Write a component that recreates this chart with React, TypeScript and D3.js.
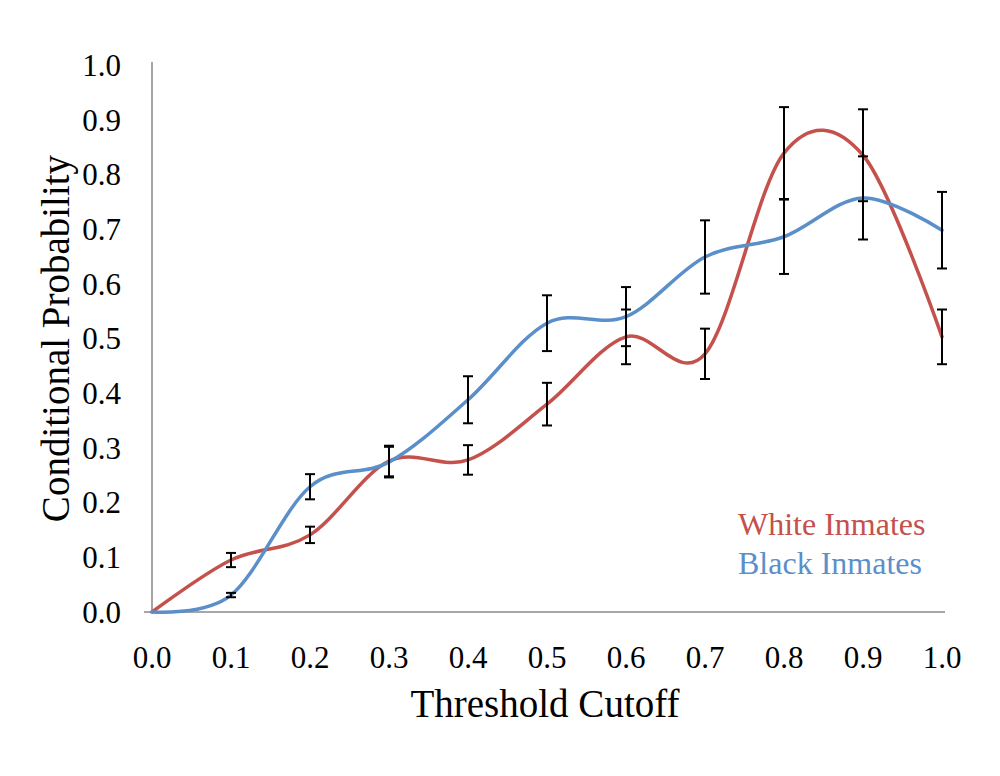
import React, { useEffect, useRef } from 'react';
import * as d3 from 'd3';

// values
const thresholds = [0, 0.1, 0.2, 0.3, 0.4, 0.5, 0.6, 0.7, 0.8, 0.9, 1.0];
const whiteValues = [0, 0.095, 0.141, 0.276, 0.278, 0.38, 0.503, 0.472, 0.839, 0.835, 0.503];
const whiteErrors = [0, 0.013, 0.015, 0.028, 0.027, 0.039, 0.05, 0.046, 0.084, 0.084, 0.05];
const blackValues = [0, 0.031, 0.229, 0.274, 0.388, 0.528, 0.54, 0.649, 0.686, 0.757, 0.698];
const blackErrors = [0, 0.004, 0.023, 0.028, 0.043, 0.051, 0.054, 0.067, 0.068, 0.076, 0.07];
const tickValues = [0, 0.1, 0.2, 0.3, 0.4, 0.5, 0.6, 0.7, 0.8, 0.9, 1.0];

const series = [
  { name: 'White Inmates', values: whiteValues, errors: whiteErrors, color: '#C4514C' },
  { name: 'Black Inmates', values: blackValues, errors: blackErrors, color: '#5B8FC9' },
];

export default function App() {
  const svgRef = useRef<SVGSVGElement>(null);

  useEffect(() => {
    if (!svgRef.current) return;
    const width = 1000;
    const height = 776;
    const font = '"Liberation Serif", "Times New Roman", serif';

    const svg = d3.select(svgRef.current);
    svg.selectAll('*').remove();
    svg.attr('width', width).attr('height', height);

    const x = d3.scaleLinear().domain([0, 1]).range([152, 942]);
    const y = d3.scaleLinear().domain([0, 1]).range([612, 65]);

    // axes lines
    svg.append('line')
      .attr('x1', x(0)).attr('x2', x(0))
      .attr('y1', y(1) - 3).attr('y2', y(0))
      .attr('stroke', '#a6a6a6').attr('stroke-width', 2);
    svg.append('line')
      .attr('x1', x(0) - 8).attr('x2', x(1) + 3)
      .attr('y1', y(0)).attr('y2', y(0))
      .attr('stroke', '#a6a6a6').attr('stroke-width', 2);

    // tick labels
    svg.append('g')
      .selectAll('text')
      .data(tickValues)
      .enter()
      .append('text')
      .attr('x', 121)
      .attr('y', (d) => y(d))
      .attr('dy', '0.35em')
      .attr('text-anchor', 'end')
      .attr('font-family', font)
      .attr('font-size', 31)
      .attr('fill', '#000')
      .text((d) => d.toFixed(1));

    svg.append('g')
      .selectAll('text')
      .data(tickValues)
      .enter()
      .append('text')
      .attr('x', (d) => x(d))
      .attr('y', 668)
      .attr('text-anchor', 'middle')
      .attr('font-family', font)
      .attr('font-size', 31)
      .attr('fill', '#000')
      .text((d) => d.toFixed(1));

    // axis titles
    svg.append('text')
      .attr('transform', `translate(69, ${(y(0) + y(1)) / 2}) rotate(-90)`)
      .attr('text-anchor', 'middle')
      .attr('font-family', font)
      .attr('font-size', 39)
      .attr('fill', '#000')
      .text('Conditional Probability');

    svg.append('text')
      .attr('x', 545)
      .attr('y', 717)
      .attr('text-anchor', 'middle')
      .attr('font-family', font)
      .attr('font-size', 39)
      .attr('fill', '#000')
      .text('Threshold Cutoff');

    // smoothed lines
    const line = d3
      .line<number>()
      .x((_, i) => x(thresholds[i]))
      .y((d) => y(d))
      .curve(d3.curveCardinal.tension(0));

    series.forEach((s) => {
      svg.append('path')
        .attr('d', line(s.values) as string)
        .attr('fill', 'none')
        .attr('stroke', s.color)
        .attr('stroke-width', 3.5)
        .attr('stroke-linecap', 'round');
    });

    // error bars
    const cap = 5;
    series.forEach((s) => {
      const g = svg.append('g');
      s.values.forEach((v, i) => {
        const e = s.errors[i];
        if (e <= 0) return;
        const cx = x(thresholds[i]);
        const y1 = y(v + e);
        const y2 = y(v - e);
        g.append('line').attr('x1', cx).attr('x2', cx).attr('y1', y1).attr('y2', y2)
          .attr('stroke', '#000').attr('stroke-width', 2);
        g.append('line').attr('x1', cx - cap).attr('x2', cx + cap).attr('y1', y1).attr('y2', y1)
          .attr('stroke', '#000').attr('stroke-width', 2);
        g.append('line').attr('x1', cx - cap).attr('x2', cx + cap).attr('y1', y2).attr('y2', y2)
          .attr('stroke', '#000').attr('stroke-width', 2);
      });
    });

    // legend
    series.forEach((s, i) => {
      svg.append('text')
        .attr('x', 738)
        .attr('y', 535 + i * 39)
        .attr('font-family', font)
        .attr('font-size', 32)
        .attr('fill', s.color)
        .text(s.name);
    });
  }, []);

  return (
    <div style={{ position: 'absolute', left: 0, top: 0, background: '#fff' }}>
      <svg ref={svgRef} style={{ display: 'block' }} />
    </div>
  );
}
